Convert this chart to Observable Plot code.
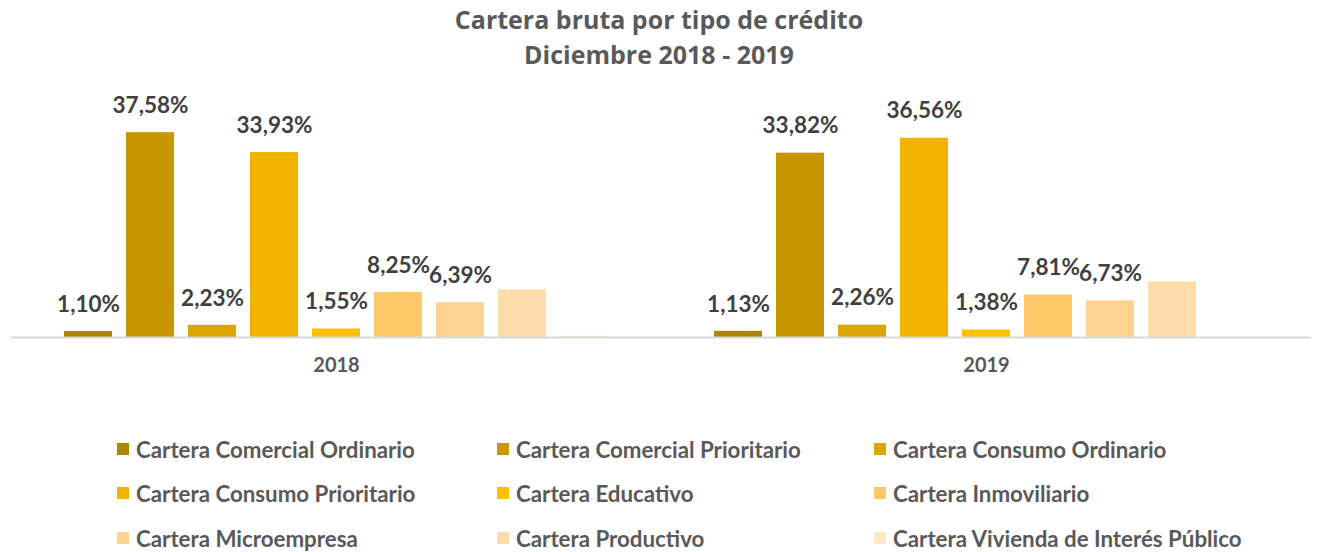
<!DOCTYPE html>
<html>
<head>
<meta charset="utf-8">
<script src="https://cdn.jsdelivr.net/npm/d3@7"></script>
<script src="https://cdn.jsdelivr.net/npm/@observablehq/plot@0.6"></script>
<style>
  html, body { margin: 0; padding: 0; background: #fff; }
  body { width: 1318px; height: 552px; position: relative; overflow: hidden; }
  #title { position: absolute; left: 0; top: 2px; width: 1318px; text-align: center;
    font-family: "Open Sans", sans-serif; font-weight: 700; font-size: 25px; line-height: 35px; color: #595959; }
  #chart { position: absolute; left: 0; top: 72px; }
  #legend { position: absolute; left: 0; top: 0; width: 1318px; }
  .item { position: absolute; display: flex; align-items: center; font-family: Lato, sans-serif;
    font-weight: 700; font-size: 22.3px; color: #595959; white-space: nowrap; }
  .sw { width: 12px; height: 12px; margin-right: 7px; }
</style>
</head>
<body>
<div id="title">Cartera bruta por tipo de crédito<br>Diciembre 2018 - 2019</div>
<div id="chart"></div>
<div id="legend"></div>
<script>
const years = ["2018", "2019"];
const series = [
  "Cartera Comercial Ordinario",
  "Cartera Comercial Prioritario",
  "Cartera Consumo Ordinario",
  "Cartera Consumo Prioritario",
  "Cartera Educativo",
  "Cartera Inmoviliario",
  "Cartera Microempresa",
  "Cartera Productivo",
  "Cartera Vivienda de Interés Público"
];
const colors = ["#B08500", "#C89600", "#DCA500", "#EFB300", "#FFC000", "#FFC869", "#FFD290", "#FFDCA9", "#FFE7C8"];
const values2018 = [1.10, 37.58, 2.23, 33.93, 1.55, 8.25, 6.39, 8.75, 0.22];
const values2019 = [1.13, 33.82, 2.26, 36.56, 1.38, 7.81, 6.73, 10.2, 0.05];
const labels2018 = ["1,10%", "37,58%", "2,23%", "33,93%", "1,55%", "8,25%", "6,39%", "", ""];
const labels2019 = ["1,13%", "33,82%", "2,26%", "36,56%", "1,38%", "7,81%", "6,73%", "", ""];

const data = [];
series.forEach((s, i) => {
  data.push({year: "2018", series: s, value: values2018[i], label: labels2018[i]});
  data.push({year: "2019", series: s, value: values2019[i], label: labels2019[i]});
});

const chart = Plot.plot({
  width: 1318,
  height: 315,
  marginLeft: 11,
  marginRight: 7,
  marginTop: 47,
  marginBottom: 50,
  style: {fontFamily: "Lato, sans-serif", background: "#fff"},
  fx: {domain: years, padding: 0, label: null, axis: null},
  x: {domain: series, axis: null, paddingInner: 0.226, paddingOuter: 0.78},
  y: {domain: [0, 40], axis: null},
  color: {domain: series, range: colors},
  marks: [
    Plot.barY(data, {fx: "year", x: "series", y: "value", fill: "series"}),
    Plot.ruleY([0], {stroke: "#d9d9d9", strokeWidth: 2}),
    Plot.text(data.filter(d => d.label), {fx: "year", x: "series", y: "value", text: "label",
      dy: -27, fontSize: 22.5, fontWeight: 700, fill: "#404040"}),
    Plot.axisFx({anchor: "bottom", tickSize: 0, tickPadding: 20, fontSize: 20, fontWeight: 700, color: "#595959", label: null})
  ]
});
document.getElementById("chart").appendChild(chart);

const legend = document.getElementById("legend");
const colLeft = [117, 497, 874];
const rowCenter = [449, 493, 538];
series.forEach((s, i) => {
  const el = document.createElement("div");
  el.className = "item";
  el.style.left = colLeft[i % 3] + "px";
  el.style.top = (rowCenter[Math.floor(i / 3)] - 13) + "px";
  el.style.height = "26px";
  const sw = document.createElement("span");
  sw.className = "sw";
  sw.style.background = colors[i];
  el.appendChild(sw);
  el.appendChild(document.createTextNode(s));
  legend.appendChild(el);
});
</script>
</body>
</html>
